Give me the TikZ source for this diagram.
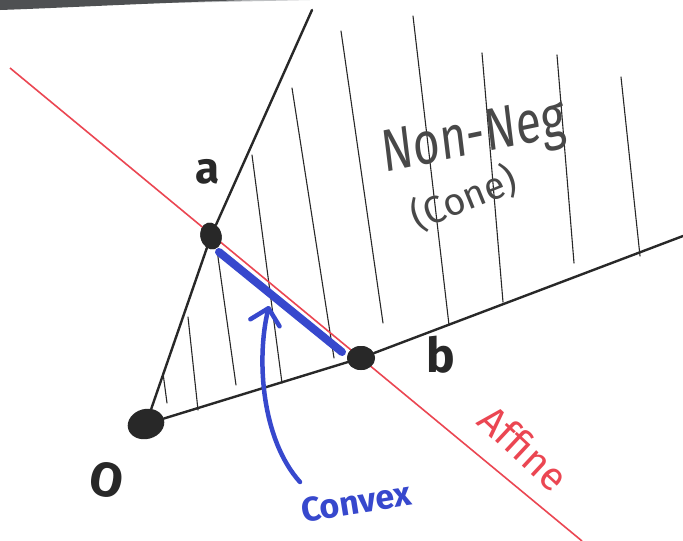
\documentclass[tikz,border=0pt]{standalone}
\usepackage{fontspec}
\newfontfamily\hand{Fira Sans}
\usetikzlibrary{arrows.meta,shapes.geometric}
\definecolor{ink}{RGB}{40,40,40}
\definecolor{pencil}{RGB}{72,72,72}
\definecolor{affred}{RGB}{235,70,82}
\definecolor{cvxblue}{RGB}{55,72,205}
\definecolor{scan}{RGB}{78,80,82}
\definecolor{scanlight}{RGB}{190,192,194}
\begin{document}
\begin{tikzpicture}[x=1pt,y=-1pt,
  dot/.style={ellipse,fill=ink,draw=none,inner sep=0pt},
  coneline/.style={draw=ink,line width=2.4pt,line cap=round,line join=round},
  hatch/.style={draw=ink,line width=1.1pt,line cap=round},
  affline/.style={draw=affred,line width=1.6pt},
  cvxseg/.style={draw=cvxblue,line width=8pt,line cap=round},
  cvxarrow/.style={draw=cvxblue,line width=4.5pt,line cap=round,-{Straight Barb[length=15pt,width=30pt,round]}},
  lbl/.style={font=\hand,text=ink,inner sep=0pt},
  adot/.style={dot,minimum width=21pt,minimum height=27pt,rotate=15},
  bdot/.style={dot,minimum width=28pt,minimum height=24pt},
]
\useasboundingbox (0,0) rectangle (683,541);
\fill[white] (0,0) rectangle (683,541);
% scan edge
\fill[scanlight] (0,0) -- (0,6) .. controls (120,4) and (220,2) .. (310,0) -- cycle;
\fill[scan] (0,0) -- (0,10) .. controls (60,8) and (150,3) .. (250,0) -- cycle;

% hatching
\draw[hatch] (163,373) -- (167,403);
\draw[hatch] (188,317) -- (198,410);
\draw[hatch] (217,250) -- (236,385);
\draw[hatch] (252,155) -- (282,383);
\draw[hatch] (292,88) -- (334,358);
\draw[hatch] (341,31) -- (383,323);
\draw[hatch] (413,16) -- (449,325);
\draw[hatch] (482,53) -- (503,302);
\draw[hatch] (557,55) -- (574,263);
\draw[hatch] (621,77) -- (640,256);

% points
\coordinate (ctop) at (312,10);
\coordinate (cright) at (683,236);
\coordinate (r1) at (10,68);
\coordinate (r2) at (582,541);
\node[dot,minimum width=37pt,minimum height=30pt,rotate=15] (O) at (146,424) {};
\node[adot] (a) at (211,236) {};
\node[bdot] (b) at (361,358) {};

% cone boundary
\draw[coneline] (O) -- (a) -- (ctop);
\draw[coneline] (O) -- (b) -- (cright);

% affine line
\draw[affline] (r1) -- (r2);
\node[adot] at (a) {};

% convex segment
\coordinate (cs1) at (219,252);
\coordinate (cs2) at (342,352);
\draw[cvxseg] (cs1) -- (cs2);
\node[bdot] at (b) {};

% labels
\node[lbl,font=\hand\bfseries\fontsize{44}{48}\selectfont] (la) at (208,172) {a};
\node[lbl,font=\hand\bfseries\fontsize{48}{52}\selectfont] (lb) at (441,355) {b};
\node[lbl,font=\hand\bfseries\fontsize{48}{52}\selectfont,rotate=-10] (lO) at (107,480) {O};
\node[lbl,text=pencil,font=\hand\fontsize{46}{50}\selectfont,yscale=1.3,rotate=9] (nonneg) at (474,140) {Non-Neg};
\node[lbl,text=pencil,font=\hand\fontsize{38}{42}\selectfont,rotate=22] (cone) at (464,198) {(Cone)};
\node[lbl,text=affred,font=\hand\fontsize{40}{44}\selectfont,rotate=-43] (affine) at (524,448) {Affine};
\node[lbl,text=cvxblue,font=\hand\bfseries\fontsize{34}{38}\selectfont,rotate=9] (convex) at (356,502) {Convex};

% arrow
\coordinate (astart) at (300,482);
\coordinate (aend) at (269,306);
\draw[cvxarrow] (astart) .. controls (262,440) and (256,360) .. (aend);
\end{tikzpicture}
\end{document}
